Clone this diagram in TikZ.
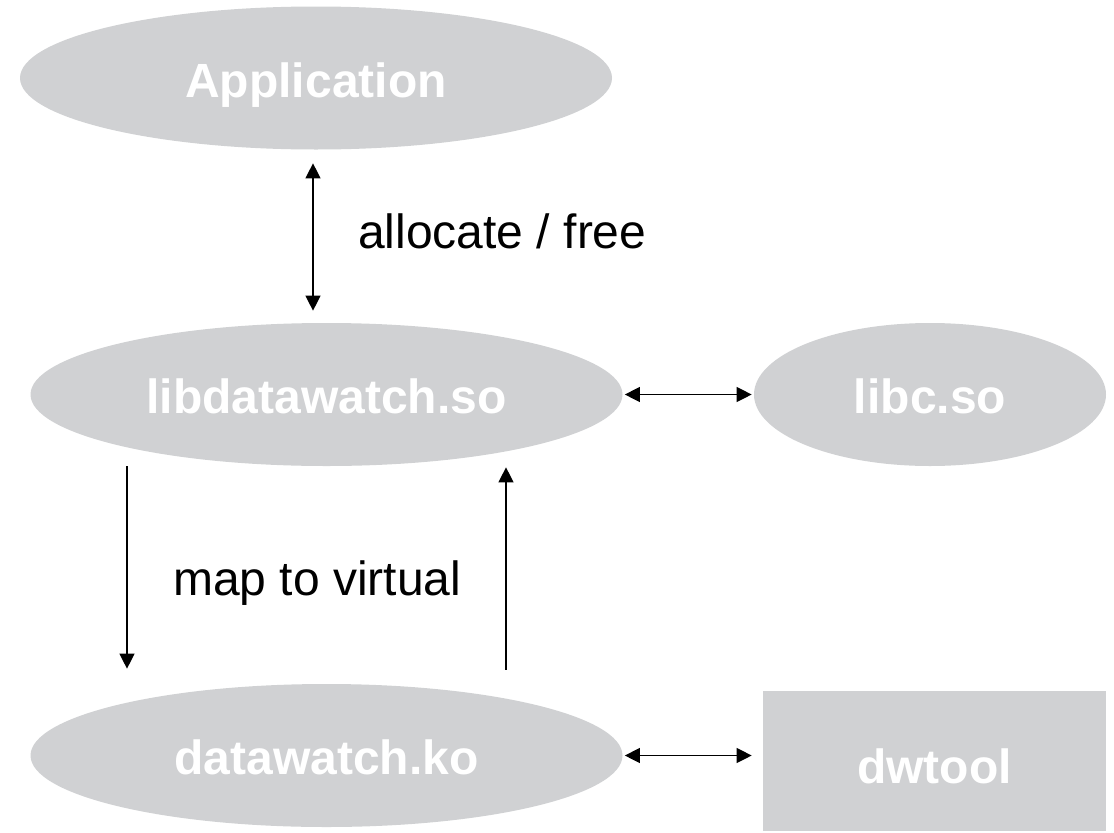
\documentclass[tikz,border=0pt]{standalone}
\usepackage{fontspec}
\setmainfont{Liberation Sans}
\usetikzlibrary{arrows.meta,shapes.geometric,calc}

\definecolor{boxgray}{RGB}{208,209,211}

\begin{document}
\begin{tikzpicture}[x=0.75pt,y=-0.75pt,
  blob/.style={ellipse,fill=boxgray,draw=none,inner sep=0pt,
    text=white,font=\fontsize{36}{40}\selectfont\bfseries,
    text height=29.2pt,text depth=0pt},
  bigblob/.style={blob,minimum width=444pt,minimum height=107.25pt},
  smallblob/.style={blob,minimum width=264pt,minimum height=107.25pt},
  toolbox/.style={rectangle,fill=boxgray,draw=none,inner sep=0pt,
    text=white,font=\fontsize{36}{40}\selectfont\bfseries,
    text height=33pt,text depth=0pt,
    minimum width=257.25pt,minimum height=105pt},
  note/.style={inner sep=0pt,anchor=base west,font=\fontsize{36}{40}\selectfont},
  link/.style={line width=1.4pt,draw=black},
  tip/.tip={Triangle[length=11.25pt,width=11pt]},
  dbl/.style={link,tip-tip},
  one/.style={link,-tip}]

  \useasboundingbox (0,0) rectangle (1114,832);

  % components
  \node[bigblob]   (app)  at (316,78)    {Application};
  \node[bigblob]   (lib)  at (326.5,394.5) {libdatawatch.so};
  \node[smallblob] (libc) at (930,394.5) {libc.so};
  \node[bigblob]   (ko)   at (326.5,755.5) {datawatch.ko};
  \node[toolbox]   (dw)   at (934.5,761) {dwtool};

  % labels
  \node[note] (alloc) at (358,248) {allocate / free};
  \node[note] (map)   at (173,595) {map to virtual};

  % connectors
  \draw[dbl] ([shift={(-3,13.5)}]app.south) -- ([shift={(-13.5,-12)}]lib.north);
  \draw[dbl] ([xshift=1.5pt]lib.east) -- ([xshift=-1.5pt]libc.west);
  \draw[one] ([shift={(-199.5,0)}]lib.south) -- ([shift={(-199.5,-15)}]ko.north);
  \draw[one] ([shift={(179.5,-14)}]ko.north) -- ([shift={(179.5,1)}]lib.south);
  \draw[dbl] ([xshift=1.5pt]ko.east) -- ([xshift=-8.25pt]ko.east -| dw.west);
\end{tikzpicture}
\end{document}
